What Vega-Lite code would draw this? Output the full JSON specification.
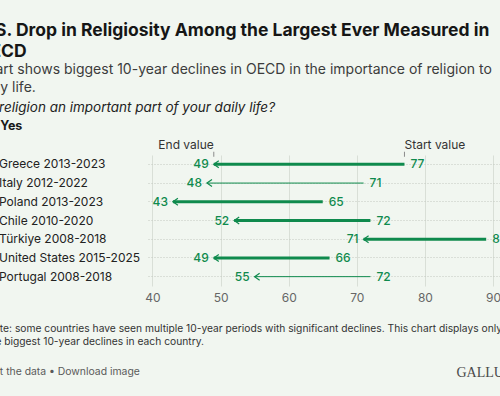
{
  "$schema": "https://vega.github.io/schema/vega-lite/v6.json",
  "width": 352,
  "height": 131,
  "autosize": {"type": "none"},
  "padding": {"left": 148, "top": 155, "right": 0, "bottom": 110},
  "background": "#f1f6f0",
  "config": {"font": "Inter", "view": {"stroke": null}},
  "title": {
    "text": ["U.S. Drop in Religiosity Among the Largest Ever Measured in", "OECD"],
    "subtitle": ["Chart shows biggest 10-year declines in OECD in the importance of religion to", "daily life."],
    "anchor": "start",
    "frame": "group",
    "dx": -171,
    "offset": 6,
    "font": "Inter",
    "fontSize": 17.5,
    "fontWeight": 700,
    "color": "#161616",
    "lineHeight": 21,
    "subtitleFont": "Inter",
    "subtitleFontSize": 14,
    "subtitleColor": "#3c3c3c",
    "subtitleLineHeight": 17.5,
    "subtitlePadding": 2.5
  },
  "data": {
    "values": [
      {"country": "Greece 2013-2023", "start": 77, "end": 49, "significant": "yes"},
      {"country": "Italy 2012-2022", "start": 71, "end": 48, "significant": "no"},
      {"country": "Poland 2013-2023", "start": 65, "end": 43, "significant": "yes"},
      {"country": "Chile 2010-2020", "start": 72, "end": 52, "significant": "yes"},
      {"country": "Türkiye 2008-2018", "start": 89, "end": 71, "significant": "yes"},
      {"country": "United States 2015-2025", "start": 66, "end": 49, "significant": "yes"},
      {"country": "Portugal 2008-2018", "start": 72, "end": 55, "significant": "no"}
    ]
  },
  "resolve": {"axis": {"x": "independent", "y": "independent"}},
  "layer": [
    {
      "mark": {"type": "rule", "color": "#0f8a4d"},
      "encoding": {
        "x": {
          "field": "start", "type": "quantitative",
          "scale": {"domain": [39.34, 91.03], "nice": false, "zero": false},
          "axis": {
            "orient": "bottom", "values": [40, 50, 60, 70, 80, 90],
            "grid": true, "gridColor": "#d9dfd7", "domain": false, "ticks": false, "tickSize": 0,
            "labelPadding": 6, "labelFont": "Inter", "labelFontSize": 12, "labelColor": "#666666",
            "title": ["Note: some countries have seen multiple 10-year periods with significant declines. This chart displays only", "the biggest 10-year declines in each country."],
            "titleX": -162.5, "titleY": 45.7, "titleAlign": "left", "titleAngle": 0, "titleBaseline": "alphabetic",
            "titleFont": "Inter", "titleFontSize": 10.25, "titleFontWeight": 400, "titleColor": "#333333", "titleLineHeight": 12.5
          }
        },
        "x2": {"field": "end"},
        "y": {
          "field": "country", "type": "nominal", "sort": null,
          "scale": {"domain": ["Greece 2013-2023", "Italy 2012-2022", "Poland 2013-2023", "Chile 2010-2020", "Türkiye 2008-2018", "United States 2015-2025", "Portugal 2008-2018"], "paddingInner": 0, "paddingOuter": 0},
          "axis": {
            "orient": "left", "labelAlign": "left", "labelPadding": 149.5, "ticks": false, "tickSize": 0, "domain": false,
            "grid": true, "gridDash": [1, 2], "gridColor": "#c3c9c1", "bandPosition": 0.5,
            "labelFont": "Inter", "labelFontSize": 12, "labelColor": "#222222", "labelBaseline": "middle",
            "title": "Is religion an important part of your daily life?",
            "titleX": -164, "titleY": -43.5, "titleAngle": 0, "titleAlign": "left", "titleBaseline": "alphabetic",
            "titleFont": "Inter", "titleFontSize": 13.5, "titleFontStyle": "italic", "titleFontWeight": 400, "titleColor": "#222222"
          }
        },
        "strokeWidth": {"field": "significant", "type": "ordinal", "scale": {"domain": ["yes", "no"], "range": [3, 1]}, "legend": null}
      }
    },
    {
      "mark": {"type": "point", "shape": "M 1 -0.7 L 0 0 L 1 0.7", "filled": false, "color": "#0f8a4d", "size": 100, "opacity": 1, "strokeWidth": 1.2},
      "encoding": {
        "x": {"field": "end", "type": "quantitative", "axis": null},
        "y": {"field": "country", "type": "nominal", "sort": null, "axis": null}
      }
    },
    {
      "mark": {"type": "text", "align": "right", "dx": -5, "baseline": "middle", "font": "Inter", "fontSize": 12, "fontWeight": 500, "color": "#0f8a4d"},
      "encoding": {
        "x": {
          "field": "end", "type": "quantitative",
          "axis": {
            "orient": "top", "labels": false, "ticks": false, "domain": false, "grid": false,
            "title": "% Yes", "titleX": -164, "titleY": -26, "titleAlign": "left", "titleAngle": 0, "titleBaseline": "alphabetic",
            "titleFont": "Inter", "titleFontSize": 12.5, "titleFontWeight": 700, "titleColor": "#1a1a1a"
          }
        },
        "y": {
          "field": "country", "type": "nominal", "sort": null,
          "axis": {
            "orient": "right", "labels": false, "ticks": false, "domain": false, "grid": false,
            "title": "GALLUP", "titleX": -44, "titleY": 221, "titleAlign": "left", "titleAngle": 0, "titleBaseline": "alphabetic",
            "titleFont": "Liberation Serif", "titleFontSize": 14, "titleFontWeight": 400, "titleColor": "#4a4a4a"
          }
        },
        "text": {"field": "end", "type": "quantitative"}
      }
    },
    {
      "mark": {"type": "text", "align": "left", "dx": 6, "baseline": "middle", "font": "Inter", "fontSize": 12, "fontWeight": 500, "color": "#0f8a4d"},
      "encoding": {
        "x": {
          "field": "start", "type": "quantitative",
          "axis": {
            "orient": "bottom", "labels": false, "ticks": false, "domain": false, "grid": false,
            "title": "Get the data • Download image", "titleX": -162.5, "titleY": 88.3, "titleAlign": "left", "titleAngle": 0, "titleBaseline": "alphabetic",
            "titleFont": "Inter", "titleFontSize": 10.4, "titleFontWeight": 400, "titleColor": "#5a5a5a"
          }
        },
        "y": {"field": "country", "type": "nominal", "sort": null, "axis": null},
        "text": {"field": "start", "type": "quantitative"}
      }
    },
    {
      "transform": [{"filter": "datum.country === 'Greece 2013-2023'"}],
      "mark": {"type": "text", "text": "End value", "align": "right", "baseline": "alphabetic", "dy": -15.3, "font": "Inter", "fontSize": 12, "color": "#333333"},
      "encoding": {
        "x": {"field": "end", "type": "quantitative", "axis": null},
        "y": {"field": "country", "type": "nominal", "sort": null, "axis": null}
      }
    },
    {
      "transform": [{"filter": "datum.country === 'Greece 2013-2023'"}],
      "mark": {"type": "text", "text": "Start value", "align": "left", "baseline": "alphabetic", "dy": -15.3, "font": "Inter", "fontSize": 12, "color": "#333333"},
      "encoding": {
        "x": {"field": "start", "type": "quantitative", "axis": null},
        "y": {"field": "country", "type": "nominal", "sort": null, "axis": null}
      }
    },
    {
      "transform": [{"filter": "datum.country === 'Greece 2013-2023'"}],
      "mark": {"type": "tick", "orient": "vertical", "size": 5, "thickness": 1, "color": "#8a8a8a", "yOffset": -10, "opacity": 1},
      "encoding": {
        "x": {"field": "end", "type": "quantitative", "axis": null},
        "y": {"field": "country", "type": "nominal", "sort": null, "axis": null}
      }
    },
    {
      "transform": [{"filter": "datum.country === 'Greece 2013-2023'"}],
      "mark": {"type": "tick", "orient": "vertical", "size": 5, "thickness": 1, "color": "#8a8a8a", "yOffset": -10, "opacity": 1},
      "encoding": {
        "x": {"field": "start", "type": "quantitative", "axis": null},
        "y": {"field": "country", "type": "nominal", "sort": null, "axis": null}
      }
    }
  ]
}
